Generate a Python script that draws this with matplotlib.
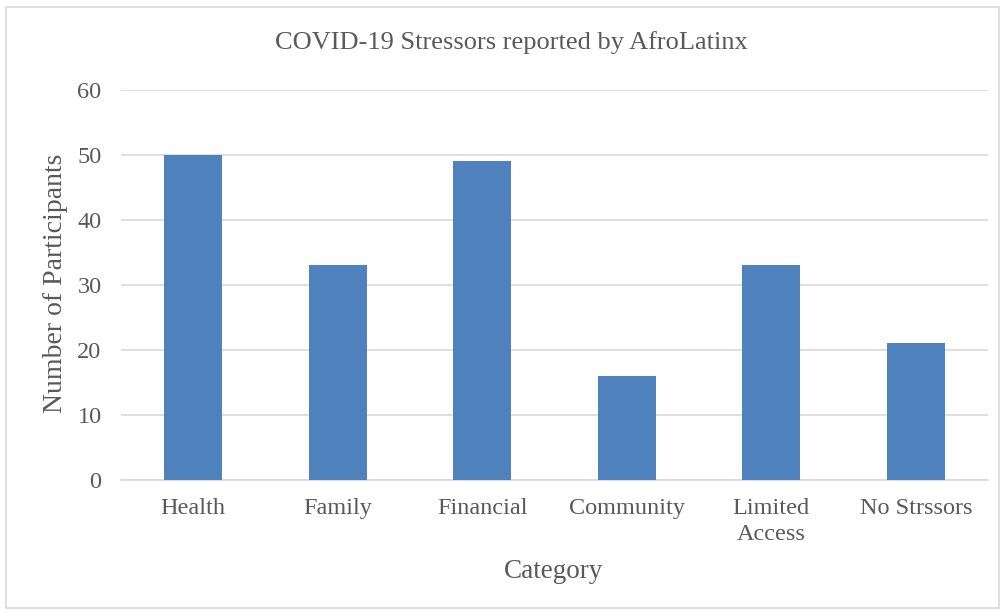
import matplotlib.pyplot as plt
from matplotlib.patches import Rectangle

categorias = ["Health", "Family", "Financial", "Community", "Limited\nAccess", "No Strssors"]
participantes = [50, 33, 49, 16, 33, 21]
yticks = [0, 10, 20, 30, 40, 50, 60]

gris = "#595959"
plt.rcParams["font.family"] = ["Liberation Serif", "DejaVu Serif"]

fig = plt.figure(figsize=(10.05, 6.13), dpi=100)
ax = fig.add_axes([0.1204, 0.2170, 0.8627, 0.6362])

x = range(len(categorias))
ax.bar(x, participantes, width=0.4, color="#4F81BD", zorder=3)

ax.set_xlim(-0.5, len(categorias) - 0.5)
ax.set_ylim(0, 60)
ax.set_yticks(yticks)
ax.set_xticks(list(x))
ax.set_xticklabels(categorias, fontsize=17.5, color=gris, linespacing=1.3)
ax.tick_params(axis="y", labelsize=17.5, colors=gris, length=0, pad=14)
ax.tick_params(axis="x", length=0, pad=13)
ax.grid(axis="y", color="#D9D9D9", linewidth=1.2, zorder=0)

for s in ["top", "right", "left"]:
    ax.spines[s].set_visible(False)
ax.spines["bottom"].set_color("#D9D9D9")
ax.spines["bottom"].set_linewidth(1.2)

fig.text(511 / 1005, 1 - 43 / 613, "COVID-19 Stressors reported by AfroLatinx",
         fontsize=19, color=gris, ha="center", va="center")
fig.text(554 / 1005, 1 - 571 / 613, "Category", fontsize=19.5, color=gris,
         ha="center", va="center")
fig.text(55 / 1005, 1 - 283 / 613, "Number of Participants", fontsize=20,
         color=gris, ha="center", va="center", rotation=90)

fig.patches.append(Rectangle((6 / 1005, 5 / 613), 993 / 1005, 601 / 613,
                             transform=fig.transFigure, fill=False,
                             edgecolor="#D9D9D9", linewidth=1.2))

fig.savefig("out.png", dpi=100)
